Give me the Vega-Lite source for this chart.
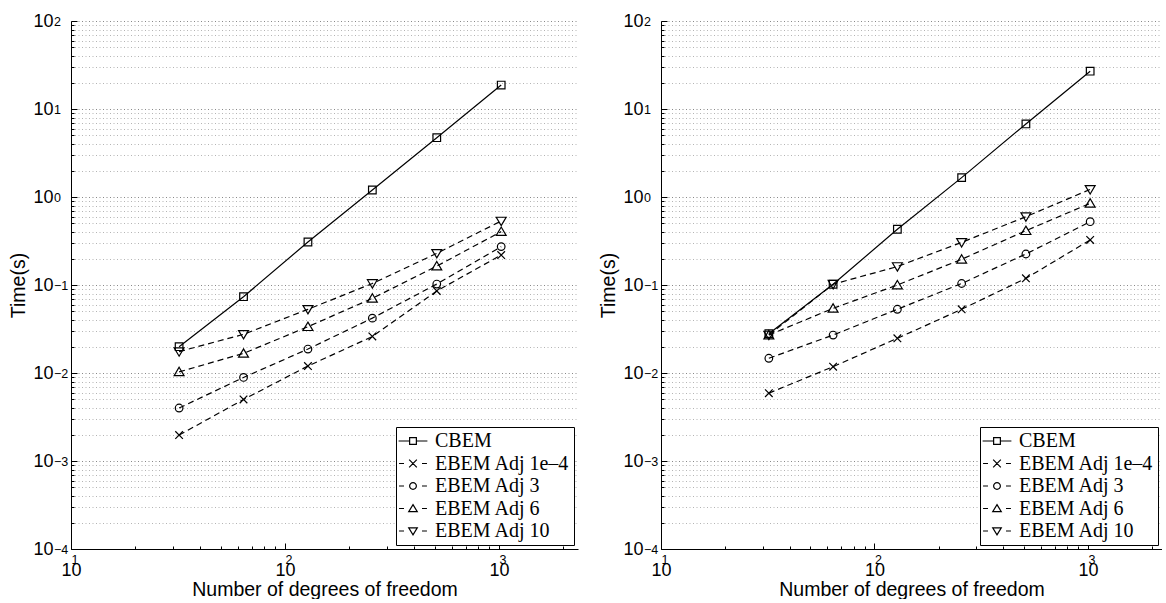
{
  "$schema": "https://vega.github.io/schema/vega-lite/v6.json",
  "background": "white",
  "padding": {"left": 8, "top": 12, "right": 0, "bottom": 0},
  "bounds": "flush",
  "spacing": 83,
  "config": {
    "view": {"stroke": null},
    "axis": {
      "labelFont": "Liberation Sans",
      "titleFont": "Liberation Sans",
      "labelColor": "black",
      "titleColor": "black",
      "domainColor": "black",
      "tickColor": "black",
      "titleFontWeight": "normal",
      "labelOverlap": false,
      "labelFlush": false,
      "labelBound": false
    },
    "legend": {
      "orient": "bottom-right",
      "offset": 4,
      "padding": 4,
      "strokeColor": "black",
      "fillColor": "white",
      "cornerRadius": 0,
      "rowPadding": 2.5,
      "symbolSize": 81,
      "symbolOffset": 3,
      "symbolStrokeWidth": 1.2,
      "symbolStrokeColor": "black",
      "symbolFillColor": "transparent",
      "symbolOpacity": 1,
      "labelOffset": 12,
      "labelFont": "Liberation Serif",
      "labelFontSize": 20,
      "labelColor": "black",
      "labelLimit": 0
    }
  },
  "datasets": {
    "left": [
      {"n": 32, "t": 0.0199, "series": "CBEM"},
      {"n": 64, "t": 0.0736, "series": "CBEM"},
      {"n": 128, "t": 0.308, "series": "CBEM"},
      {"n": 256, "t": 1.2, "series": "CBEM"},
      {"n": 512, "t": 4.72, "series": "CBEM"},
      {"n": 1024, "t": 18.7, "series": "CBEM"},
      {"n": 32, "t": 0.00197, "series": "EBEM Adj 1e–4"},
      {"n": 64, "t": 0.005, "series": "EBEM Adj 1e–4"},
      {"n": 128, "t": 0.012, "series": "EBEM Adj 1e–4"},
      {"n": 256, "t": 0.026, "series": "EBEM Adj 1e–4"},
      {"n": 512, "t": 0.0855, "series": "EBEM Adj 1e–4"},
      {"n": 1024, "t": 0.219, "series": "EBEM Adj 1e–4"},
      {"n": 32, "t": 0.004, "series": "EBEM Adj 3"},
      {"n": 64, "t": 0.0089, "series": "EBEM Adj 3"},
      {"n": 128, "t": 0.0187, "series": "EBEM Adj 3"},
      {"n": 256, "t": 0.042, "series": "EBEM Adj 3"},
      {"n": 512, "t": 0.1025, "series": "EBEM Adj 3"},
      {"n": 1024, "t": 0.273, "series": "EBEM Adj 3"},
      {"n": 32, "t": 0.0103, "series": "EBEM Adj 6"},
      {"n": 64, "t": 0.0167, "series": "EBEM Adj 6"},
      {"n": 128, "t": 0.0336, "series": "EBEM Adj 6"},
      {"n": 256, "t": 0.0705, "series": "EBEM Adj 6"},
      {"n": 512, "t": 0.164, "series": "EBEM Adj 6"},
      {"n": 1024, "t": 0.404, "series": "EBEM Adj 6"},
      {"n": 32, "t": 0.0175, "series": "EBEM Adj 10"},
      {"n": 64, "t": 0.0275, "series": "EBEM Adj 10"},
      {"n": 128, "t": 0.0529, "series": "EBEM Adj 10"},
      {"n": 256, "t": 0.104, "series": "EBEM Adj 10"},
      {"n": 512, "t": 0.229, "series": "EBEM Adj 10"},
      {"n": 1024, "t": 0.533, "series": "EBEM Adj 10"}
    ],
    "right": [
      {"n": 32, "t": 0.028, "series": "CBEM"},
      {"n": 64, "t": 0.102, "series": "CBEM"},
      {"n": 128, "t": 0.43, "series": "CBEM"},
      {"n": 256, "t": 1.66, "series": "CBEM"},
      {"n": 512, "t": 6.76, "series": "CBEM"},
      {"n": 1024, "t": 26.9, "series": "CBEM"},
      {"n": 32, "t": 0.0059, "series": "EBEM Adj 1e–4"},
      {"n": 64, "t": 0.0118, "series": "EBEM Adj 1e–4"},
      {"n": 128, "t": 0.0248, "series": "EBEM Adj 1e–4"},
      {"n": 256, "t": 0.053, "series": "EBEM Adj 1e–4"},
      {"n": 512, "t": 0.119, "series": "EBEM Adj 1e–4"},
      {"n": 1024, "t": 0.325, "series": "EBEM Adj 1e–4"},
      {"n": 32, "t": 0.0147, "series": "EBEM Adj 3"},
      {"n": 64, "t": 0.027, "series": "EBEM Adj 3"},
      {"n": 128, "t": 0.053, "series": "EBEM Adj 3"},
      {"n": 256, "t": 0.104, "series": "EBEM Adj 3"},
      {"n": 512, "t": 0.225, "series": "EBEM Adj 3"},
      {"n": 1024, "t": 0.524, "series": "EBEM Adj 3"},
      {"n": 32, "t": 0.027, "series": "EBEM Adj 6"},
      {"n": 64, "t": 0.0543, "series": "EBEM Adj 6"},
      {"n": 128, "t": 0.1, "series": "EBEM Adj 6"},
      {"n": 256, "t": 0.196, "series": "EBEM Adj 6"},
      {"n": 512, "t": 0.414, "series": "EBEM Adj 6"},
      {"n": 1024, "t": 0.848, "series": "EBEM Adj 6"},
      {"n": 32, "t": 0.027, "series": "EBEM Adj 10"},
      {"n": 64, "t": 0.102, "series": "EBEM Adj 10"},
      {"n": 128, "t": 0.162, "series": "EBEM Adj 10"},
      {"n": 256, "t": 0.305, "series": "EBEM Adj 10"},
      {"n": 512, "t": 0.597, "series": "EBEM Adj 10"},
      {"n": 1024, "t": 1.22, "series": "EBEM Adj 10"}
    ]
  },
  "hconcat": [
    {
      "width": 507,
      "height": 528,
      "data": {"name": "left"},
      "layer": [
        {
          "transform": [{"filter": "datum.series === 'CBEM'"}],
          "mark": {"type": "line", "color": "black", "strokeWidth": 1.2},
          "encoding": {
            "x": {
              "field": "n", "type": "quantitative",
              "scale": {"type": "log", "domain": [10, 2340], "nice": false},
              "axis": {
                "orient": "bottom",
                "title": "Number of degrees of freedom",
                "titleFontSize": 19.5,
                "titlePadding": 1,
                "values": [10, 100, 1000],
                "labelExpr": "'10'",
                "labelFontSize": 18,
                "labelBaseline": "middle",
                "labelPadding": 21,
                "labelDx": -3,
                "ticks": false,
                "tickSize": 0,
                "grid": false
              }
            },
            "y": {
              "field": "t", "type": "quantitative",
              "scale": {"type": "log", "domain": [0.0001, 100], "nice": false},
              "axis": {
                "orient": "left",
                "title": "Time(s)",
                "titleFontSize": 19.5,
                "titlePadding": 4,
                "values": [0.0001, 0.0002, 0.0003, 0.0004, 0.0005, 0.0006, 0.0007, 0.0008, 0.0009, 0.001, 0.002, 0.003, 0.004, 0.005, 0.006, 0.007, 0.008, 0.009, 0.01, 0.02, 0.03, 0.04, 0.05, 0.06, 0.07, 0.08, 0.09, 0.1, 0.2, 0.3, 0.4, 0.5, 0.6, 0.7, 0.8, 0.9, 1, 2, 3, 4, 5, 6, 7, 8, 9, 10, 20, 30, 40, 50, 60, 70, 80, 90, 100],
                "labelExpr": "abs(log(datum.value)/LN10 - round(log(datum.value)/LN10)) < 1e-6 ? '10' : ''",
                "labelFontSize": 18,
                "labelPadding": 18,
                "ticks": false,
                "tickSize": 0,
                "grid": true,
                "gridDash": [1, 2.5],
                "gridColor": {"condition": {"test": "abs(log(datum.value)/LN10 - round(log(datum.value)/LN10)) < 1e-6", "value": "#888888"}, "value": "#b4b4b4"}
              }
            }
          }
        },
        {
          "transform": [{"filter": "datum.series !== 'CBEM'"}],
          "mark": {"type": "line", "color": "black", "strokeWidth": 1.2, "strokeDash": [6, 4]},
          "encoding": {
            "x": {"field": "n", "type": "quantitative", "axis": null},
            "y": {"field": "t", "type": "quantitative", "axis": null},
            "detail": {"field": "series", "type": "nominal"}
          }
        },
        {
          "mark": {"type": "point", "filled": false, "color": "black", "strokeWidth": 1.2, "size": 58, "opacity": 1},
          "encoding": {
            "x": {
              "field": "n", "type": "quantitative",
              "axis": {
                "orient": "bottom", "title": null, "labels": false, "domain": false, "grid": false,
                "values": [10, 20, 30, 40, 50, 60, 70, 80, 90, 100, 200, 300, 400, 500, 600, 700, 800, 900, 1000, 2000],
                "tickSize": {"condition": {"test": "abs(log(datum.value)/LN10 - round(log(datum.value)/LN10)) < 1e-6", "value": -6}, "value": -3}
              }
            },
            "y": {
              "field": "t", "type": "quantitative",
              "axis": {
                "orient": "left", "title": null, "labels": false, "domain": false, "grid": false,
                "values": [0.0001, 0.0002, 0.0003, 0.0004, 0.0005, 0.0006, 0.0007, 0.0008, 0.0009, 0.001, 0.002, 0.003, 0.004, 0.005, 0.006, 0.007, 0.008, 0.009, 0.01, 0.02, 0.03, 0.04, 0.05, 0.06, 0.07, 0.08, 0.09, 0.1, 0.2, 0.3, 0.4, 0.5, 0.6, 0.7, 0.8, 0.9, 1, 2, 3, 4, 5, 6, 7, 8, 9, 10, 20, 30, 40, 50, 60, 70, 80, 90, 100],
                "tickSize": {"condition": {"test": "abs(log(datum.value)/LN10 - round(log(datum.value)/LN10)) < 1e-6", "value": -6}, "value": -3}
              }
            },
            "shape": {
              "field": "series", "type": "nominal",
              "scale": {"domain": ["CBEM", "EBEM Adj 1e–4", "EBEM Adj 3", "EBEM Adj 6", "EBEM Adj 10"], "range": ["square", "M-1,-1L1,1M-1,1L1,-1", "circle", "M0,-1.2L1.3,1H-1.3Z", "M0,1.2L1.3,-1H-1.3Z"]},
              "legend": null
            }
          }
        },
        {
          "transform": [{"filter": "false"}],
          "mark": {"type": "point", "filled": false, "color": "black", "strokeWidth": 1.2},
          "encoding": {
            "shape": {
              "field": "series", "type": "nominal",
              "scale": {"domain": ["CBEM", "EBEM Adj 1e–4", "EBEM Adj 3", "EBEM Adj 6", "EBEM Adj 10"], "range": ["M-3.2,0H-0.75M0.75,0H3.2M-0.75,-0.75H0.75V0.75H-0.75Z", "M-3.1,0H-2M2,0H3.1M-0.85,-0.85L0.85,0.85M-0.85,0.85L0.85,-0.85", "M-3.1,0H-2M2,0H3.1M0.75,0A0.75,0.75 0 1,1 -0.75,0A0.75,0.75 0 1,1 0.75,0Z", "M-3.1,0H-2M2,0H3.1M0,-0.85L0.95,0.7H-0.95Z", "M-3.1,0H-2M2,0H3.1M0,0.85L0.95,-0.7H-0.95Z"]},
              "legend": {"title": null}
            }
          }
        },
        {
          "mark": {"type": "point", "opacity": 0},
          "encoding": {
            "x": {
              "field": "n", "type": "quantitative",
              "axis": {
                "orient": "bottom", "title": null, "domain": false, "ticks": false, "tickSize": 0, "grid": false,
                "values": [10, 100, 1000],
                "labelExpr": "format(round(log(datum.value)/LN10), 'd')",
                "labelFontSize": 12.5,
                "labelAlign": "left",
                "labelBaseline": "middle",
                "labelPadding": 10,
                "labelDx": 8
              }
            },
            "y": {
              "field": "t", "type": "quantitative",
              "axis": {
                "orient": "left", "title": null, "domain": false, "ticks": false, "tickSize": 0, "grid": false,
                "values": [0.0001, 0.001, 0.01, 0.1, 1, 10, 100],
                "labelExpr": "format(round(log(datum.value)/LN10), 'd')",
                "labelFontSize": 12.5,
                "labelAlign": "left",
                "labelBaseline": "middle",
                "labelPadding": 17.5,
                "labelDy": -8
              }
            }
          }
        }
      ],
      "resolve": {
        "axis": {"x": "independent", "y": "independent"},
        "scale": {"shape": "independent"},
        "legend": {"shape": "independent"}
      }
    },
    {
      "width": 501,
      "height": 528,
      "data": {"name": "right"},
      "layer": [
        {
          "transform": [{"filter": "datum.series === 'CBEM'"}],
          "mark": {"type": "line", "color": "black", "strokeWidth": 1.2},
          "encoding": {
            "x": {
              "field": "n", "type": "quantitative",
              "scale": {"type": "log", "domain": [10, 2222], "nice": false},
              "axis": {
                "orient": "bottom",
                "title": "Number of degrees of freedom",
                "titleFontSize": 19.5,
                "titlePadding": 1,
                "values": [10, 100, 1000],
                "labelExpr": "'10'",
                "labelFontSize": 18,
                "labelBaseline": "middle",
                "labelPadding": 21,
                "labelDx": -3,
                "ticks": false,
                "tickSize": 0,
                "grid": false
              }
            },
            "y": {
              "field": "t", "type": "quantitative",
              "scale": {"type": "log", "domain": [0.0001, 100], "nice": false},
              "axis": {
                "orient": "left",
                "title": "Time(s)",
                "titleFontSize": 19.5,
                "titlePadding": 4,
                "values": [0.0001, 0.0002, 0.0003, 0.0004, 0.0005, 0.0006, 0.0007, 0.0008, 0.0009, 0.001, 0.002, 0.003, 0.004, 0.005, 0.006, 0.007, 0.008, 0.009, 0.01, 0.02, 0.03, 0.04, 0.05, 0.06, 0.07, 0.08, 0.09, 0.1, 0.2, 0.3, 0.4, 0.5, 0.6, 0.7, 0.8, 0.9, 1, 2, 3, 4, 5, 6, 7, 8, 9, 10, 20, 30, 40, 50, 60, 70, 80, 90, 100],
                "labelExpr": "abs(log(datum.value)/LN10 - round(log(datum.value)/LN10)) < 1e-6 ? '10' : ''",
                "labelFontSize": 18,
                "labelPadding": 18,
                "ticks": false,
                "tickSize": 0,
                "grid": true,
                "gridDash": [1, 2.5],
                "gridColor": {"condition": {"test": "abs(log(datum.value)/LN10 - round(log(datum.value)/LN10)) < 1e-6", "value": "#888888"}, "value": "#b4b4b4"}
              }
            }
          }
        },
        {
          "transform": [{"filter": "datum.series !== 'CBEM'"}],
          "mark": {"type": "line", "color": "black", "strokeWidth": 1.2, "strokeDash": [6, 4]},
          "encoding": {
            "x": {"field": "n", "type": "quantitative", "axis": null},
            "y": {"field": "t", "type": "quantitative", "axis": null},
            "detail": {"field": "series", "type": "nominal"}
          }
        },
        {
          "mark": {"type": "point", "filled": false, "color": "black", "strokeWidth": 1.2, "size": 58, "opacity": 1},
          "encoding": {
            "x": {
              "field": "n", "type": "quantitative",
              "axis": {
                "orient": "bottom", "title": null, "labels": false, "domain": false, "grid": false,
                "values": [10, 20, 30, 40, 50, 60, 70, 80, 90, 100, 200, 300, 400, 500, 600, 700, 800, 900, 1000, 2000],
                "tickSize": {"condition": {"test": "abs(log(datum.value)/LN10 - round(log(datum.value)/LN10)) < 1e-6", "value": -6}, "value": -3}
              }
            },
            "y": {
              "field": "t", "type": "quantitative",
              "axis": {
                "orient": "left", "title": null, "labels": false, "domain": false, "grid": false,
                "values": [0.0001, 0.0002, 0.0003, 0.0004, 0.0005, 0.0006, 0.0007, 0.0008, 0.0009, 0.001, 0.002, 0.003, 0.004, 0.005, 0.006, 0.007, 0.008, 0.009, 0.01, 0.02, 0.03, 0.04, 0.05, 0.06, 0.07, 0.08, 0.09, 0.1, 0.2, 0.3, 0.4, 0.5, 0.6, 0.7, 0.8, 0.9, 1, 2, 3, 4, 5, 6, 7, 8, 9, 10, 20, 30, 40, 50, 60, 70, 80, 90, 100],
                "tickSize": {"condition": {"test": "abs(log(datum.value)/LN10 - round(log(datum.value)/LN10)) < 1e-6", "value": -6}, "value": -3}
              }
            },
            "shape": {
              "field": "series", "type": "nominal",
              "scale": {"domain": ["CBEM", "EBEM Adj 1e–4", "EBEM Adj 3", "EBEM Adj 6", "EBEM Adj 10"], "range": ["square", "M-1,-1L1,1M-1,1L1,-1", "circle", "M0,-1.2L1.3,1H-1.3Z", "M0,1.2L1.3,-1H-1.3Z"]},
              "legend": null
            }
          }
        },
        {
          "transform": [{"filter": "false"}],
          "mark": {"type": "point", "filled": false, "color": "black", "strokeWidth": 1.2},
          "encoding": {
            "shape": {
              "field": "series", "type": "nominal",
              "scale": {"domain": ["CBEM", "EBEM Adj 1e–4", "EBEM Adj 3", "EBEM Adj 6", "EBEM Adj 10"], "range": ["M-3.2,0H-0.75M0.75,0H3.2M-0.75,-0.75H0.75V0.75H-0.75Z", "M-3.1,0H-2M2,0H3.1M-0.85,-0.85L0.85,0.85M-0.85,0.85L0.85,-0.85", "M-3.1,0H-2M2,0H3.1M0.75,0A0.75,0.75 0 1,1 -0.75,0A0.75,0.75 0 1,1 0.75,0Z", "M-3.1,0H-2M2,0H3.1M0,-0.85L0.95,0.7H-0.95Z", "M-3.1,0H-2M2,0H3.1M0,0.85L0.95,-0.7H-0.95Z"]},
              "legend": {"title": null}
            }
          }
        },
        {
          "mark": {"type": "point", "opacity": 0},
          "encoding": {
            "x": {
              "field": "n", "type": "quantitative",
              "axis": {
                "orient": "bottom", "title": null, "domain": false, "ticks": false, "tickSize": 0, "grid": false,
                "values": [10, 100, 1000],
                "labelExpr": "format(round(log(datum.value)/LN10), 'd')",
                "labelFontSize": 12.5,
                "labelAlign": "left",
                "labelBaseline": "middle",
                "labelPadding": 10,
                "labelDx": 8
              }
            },
            "y": {
              "field": "t", "type": "quantitative",
              "axis": {
                "orient": "left", "title": null, "domain": false, "ticks": false, "tickSize": 0, "grid": false,
                "values": [0.0001, 0.001, 0.01, 0.1, 1, 10, 100],
                "labelExpr": "format(round(log(datum.value)/LN10), 'd')",
                "labelFontSize": 12.5,
                "labelAlign": "left",
                "labelBaseline": "middle",
                "labelPadding": 17.5,
                "labelDy": -8
              }
            }
          }
        }
      ],
      "resolve": {
        "axis": {"x": "independent", "y": "independent"},
        "scale": {"shape": "independent"},
        "legend": {"shape": "independent"}
      }
    }
  ],
  "resolve": {
    "scale": {"shape": "independent"},
    "legend": {"shape": "independent"}
  }
}
